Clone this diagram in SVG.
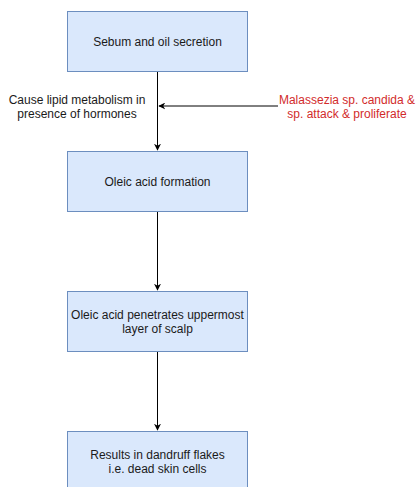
<svg xmlns="http://www.w3.org/2000/svg" width="417" height="487" viewBox="0 0 417 487">
<style>
.box{fill:#dae8fc;stroke:#6c8ebf;stroke-width:1}
.t{font-family:"Liberation Sans",Arial,sans-serif;font-size:12px;fill:#1a1a1a;text-anchor:middle}
.r{fill:#d22b2b}
.c{stroke:#000;stroke-width:1;fill:none}
</style>
<defs>
<marker id="ah" viewBox="0 0 10 10" refX="9" refY="5" markerWidth="7" markerHeight="7" orient="auto" markerUnits="userSpaceOnUse">
<path d="M0,0 L10,5 L0,10 L3,5 Z" fill="#000"/>
</marker>
</defs>
<rect width="417" height="487" fill="#fff"/>
<g id="connectors">
<path class="c" d="M157.5,71 V150" marker-end="url(#ah)"/>
<path class="c" d="M278,106 H159" marker-end="url(#ah)"/>
<path class="c" d="M157.5,211 V290" marker-end="url(#ah)"/>
<path class="c" d="M157.5,351 V430" marker-end="url(#ah)"/>
</g>
<g id="n1"><rect class="box" x="67.5" y="11.5" width="180" height="60"/><text class="t" x="157.5" y="45.5">Sebum and oil secretion</text></g>
<g id="n2"><rect class="box" x="67.5" y="151.5" width="180" height="60"/><text class="t" x="157.5" y="185.5">Oleic acid formation</text></g>
<g id="n3"><rect class="box" x="67.5" y="291.5" width="180" height="60"/><text class="t" x="157.5" y="319">Oleic acid penetrates uppermost</text><text class="t" x="157.5" y="333">layer of scalp</text></g>
<g id="n4"><rect class="box" x="67.5" y="431.5" width="180" height="60"/><text class="t" x="157.5" y="459">Results in dandruff flakes</text><text class="t" x="157.5" y="473">i.e. dead skin cells</text></g>
<g id="l1"><text class="t" x="77" y="104">Cause lipid metabolism in</text><text class="t" x="77" y="117.5">presence of hormones</text></g>
<g id="l2"><text class="t r" x="347" y="104">Malassezia sp. candida &amp;</text><text class="t r" x="347" y="117.5">sp. attack &amp; proliferate</text></g>
</svg>
